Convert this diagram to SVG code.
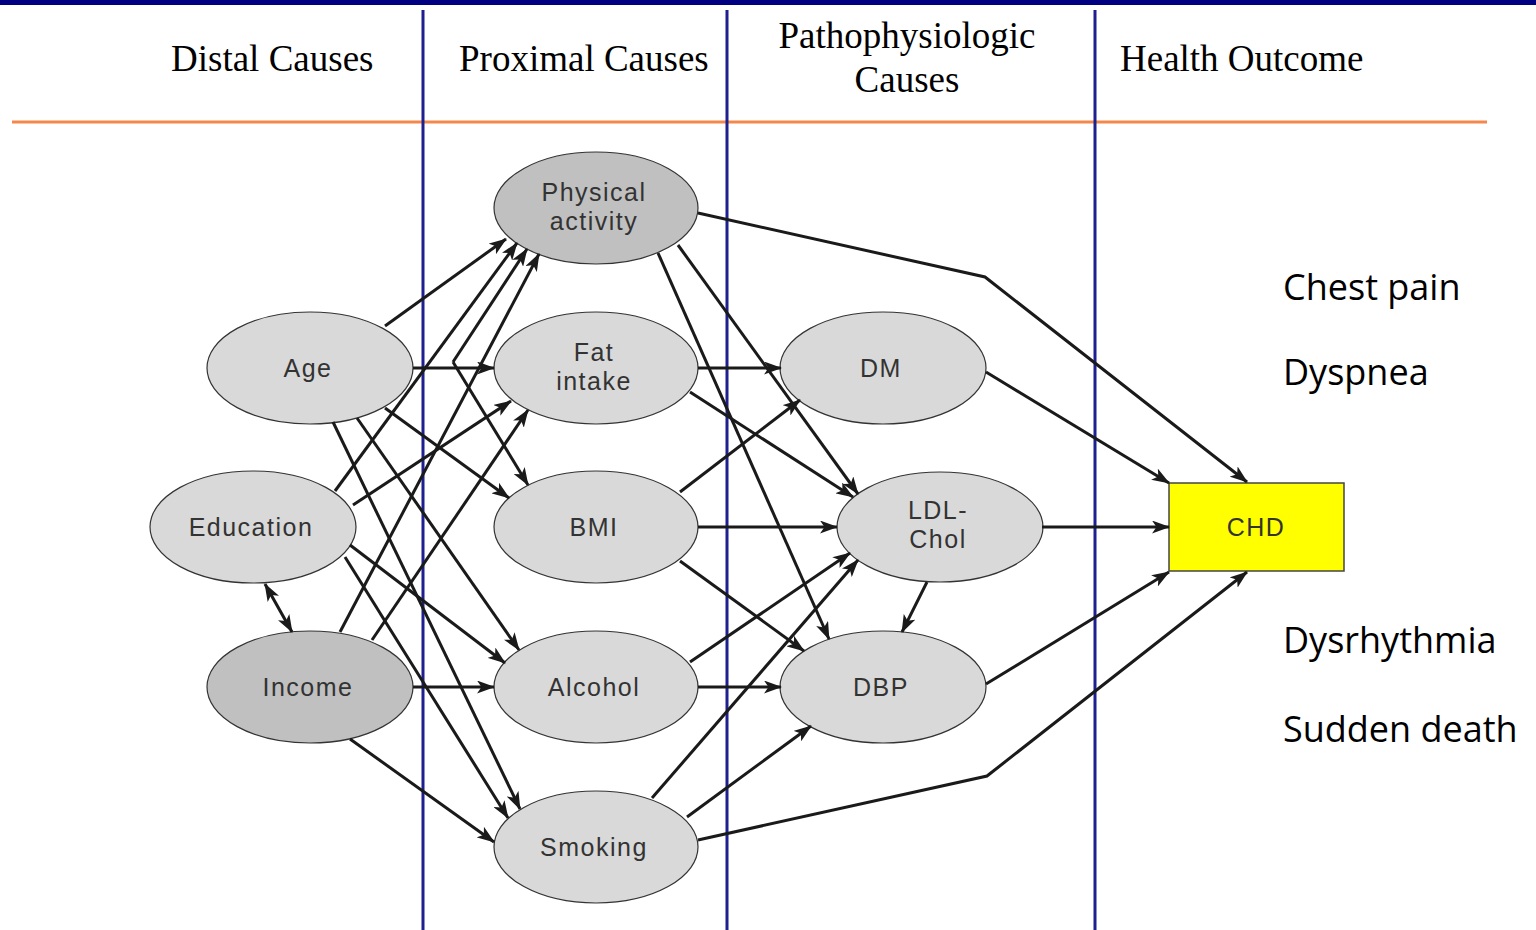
<svg xmlns="http://www.w3.org/2000/svg" width="1536" height="930" viewBox="0 0 1536 930">
<style>
.hdr{font-family:"Liberation Serif","Times New Roman",serif;font-size:37px;fill:#000}
.sym{font-family:"Open Sans","Noto Sans",sans-serif;font-size:36px;fill:#000}
.lbl{font-family:"Liberation Sans",Arial,sans-serif;font-size:25px;fill:#333;letter-spacing:1.5px;text-anchor:middle}
.lt{fill:#d9d9d9;stroke:#333;stroke-width:1.2}
.dk{fill:#c0c0c0;stroke:#333;stroke-width:1.2}
.sep{stroke:#1f1f8f;stroke-width:3}
.c{fill:none;stroke:#1a1a1a;stroke-width:3;marker-end:url(#ah)}
</style>
<defs>
<marker id="ah" markerUnits="userSpaceOnUse" markerWidth="18" markerHeight="13" viewBox="0 0 18 13" refX="17" refY="6.5" orient="auto-start-reverse">
<path d="M0,0 L18,6.5 L0,13 L4.5,6.5 Z" fill="#1a1a1a"/>
</marker>
</defs>
<rect x="0" y="0" width="1536" height="930" fill="#fff"/>
<rect x="0" y="0" width="1536" height="5" fill="#000080"/>
<g id="header">
<line x1="12" y1="122" x2="1487" y2="122" stroke="#f4874b" stroke-width="3"/>
<line class="sep" x1="423" y1="10" x2="423" y2="930"/>
<line class="sep" x1="727" y1="10" x2="727" y2="930"/>
<line class="sep" x1="1095" y1="10" x2="1095" y2="930"/>
<text class="hdr" x="171" y="71">Distal Causes</text>
<text class="hdr" x="459" y="71">Proximal Causes</text>
<text class="hdr" x="907" y="48" text-anchor="middle">Pathophysiologic</text>
<text class="hdr" x="907" y="92" text-anchor="middle">Causes</text>
<text class="hdr" x="1120" y="71">Health Outcome</text>
</g>
<g id="symptoms">
<text class="sym" x="1283" y="300">Chest pain</text>
<text class="sym" x="1283" y="385">Dyspnea</text>
<text class="sym" x="1283" y="653">Dysrhythmia</text>
<text class="sym" x="1283" y="742">Sudden death</text>
</g>
<g id="node-age"><ellipse class="lt" cx="310" cy="368" rx="103" ry="56"/><text class="lbl" x="308" y="377">Age</text></g>
<g id="node-education"><ellipse class="lt" cx="253" cy="527" rx="103" ry="56"/><text class="lbl" x="251" y="536">Education</text></g>
<g id="node-income"><ellipse class="dk" cx="310" cy="687" rx="103" ry="56"/><text class="lbl" x="308" y="696">Income</text></g>
<g id="node-physical-activity"><ellipse class="dk" cx="596" cy="208" rx="102" ry="56"/><text class="lbl" x="594" y="201">Physical</text><text class="lbl" x="594" y="230">activity</text></g>
<g id="node-fat-intake"><ellipse class="lt" cx="596" cy="368" rx="102" ry="56"/><text class="lbl" x="594" y="361">Fat</text><text class="lbl" x="594" y="390">intake</text></g>
<g id="node-bmi"><ellipse class="lt" cx="596" cy="527" rx="102" ry="56"/><text class="lbl" x="594" y="536">BMI</text></g>
<g id="node-alcohol"><ellipse class="lt" cx="596" cy="687" rx="102" ry="56"/><text class="lbl" x="594" y="696">Alcohol</text></g>
<g id="node-smoking"><ellipse class="lt" cx="596" cy="847" rx="102" ry="56"/><text class="lbl" x="594" y="856">Smoking</text></g>
<g id="node-dm"><ellipse class="lt" cx="883" cy="368" rx="103" ry="56"/><text class="lbl" x="881" y="377">DM</text></g>
<g id="node-ldl-chol"><ellipse class="lt" cx="940" cy="527" rx="103" ry="55"/><text class="lbl" x="938" y="519">LDL-</text><text class="lbl" x="938" y="548">Chol</text></g>
<g id="node-dbp"><ellipse class="lt" cx="883" cy="687" rx="103" ry="56"/><text class="lbl" x="881" y="696">DBP</text></g>
<g id="node-chd"><rect x="1169" y="483" width="175" height="88" fill="#ffff00" stroke="#444" stroke-width="1.5"/><text class="lbl" x="1256" y="536" fill="#555">CHD</text></g>
<g id="connectors">
<line class="c" x1="385" y1="326" x2="506" y2="239"/>
<line class="c" x1="413" y1="368" x2="494" y2="368"/>
<line class="c" x1="385" y1="408" x2="509" y2="498"/>
<line class="c" x1="357" y1="418" x2="519" y2="650"/>
<line class="c" x1="333" y1="422" x2="520" y2="809"/>
<line class="c" x1="335" y1="491" x2="517" y2="243"/>
<line class="c" x1="353" y1="505" x2="511" y2="401"/>
<line class="c" x1="350" y1="545" x2="505" y2="663"/>
<line class="c" x1="345" y1="557" x2="508" y2="818"/>
<line class="c" x1="340" y1="632" x2="539" y2="254"/>
<line class="c" x1="372" y1="640" x2="528" y2="410"/>
<line class="c" x1="413" y1="687" x2="494" y2="687"/>
<line class="c" x1="350" y1="739" x2="494" y2="842"/>
<line class="c" x1="453" y1="362" x2="527" y2="249"/>
<line class="c" x1="453" y1="362" x2="528" y2="485"/>
<line class="c" x1="265" y1="584" x2="292" y2="632" style="marker-start:url(#ah)"/>
<polyline class="c" points="698,213 985,277 1247,482"/>
<line class="c" x1="658" y1="253" x2="829" y2="639"/>
<line class="c" x1="678" y1="245" x2="858" y2="494"/>
<line class="c" x1="698" y1="368" x2="781" y2="368"/>
<line class="c" x1="690" y1="392" x2="853" y2="497"/>
<line class="c" x1="680" y1="492" x2="800" y2="400"/>
<line class="c" x1="698" y1="527" x2="837" y2="527"/>
<line class="c" x1="680" y1="561" x2="804" y2="651"/>
<line class="c" x1="698" y1="687" x2="781" y2="687"/>
<line class="c" x1="690" y1="662" x2="850" y2="553"/>
<line class="c" x1="652" y1="798" x2="858" y2="560"/>
<line class="c" x1="687" y1="817" x2="811" y2="726"/>
<polyline class="c" points="698,840 987,776 1247,572"/>
<line class="c" x1="986" y1="372" x2="1169" y2="483"/>
<line class="c" x1="1042" y1="527" x2="1169" y2="527"/>
<line class="c" x1="986" y1="684" x2="1169" y2="572"/>
<line class="c" x1="927" y1="582" x2="902" y2="632"/>
</g>
</svg>
